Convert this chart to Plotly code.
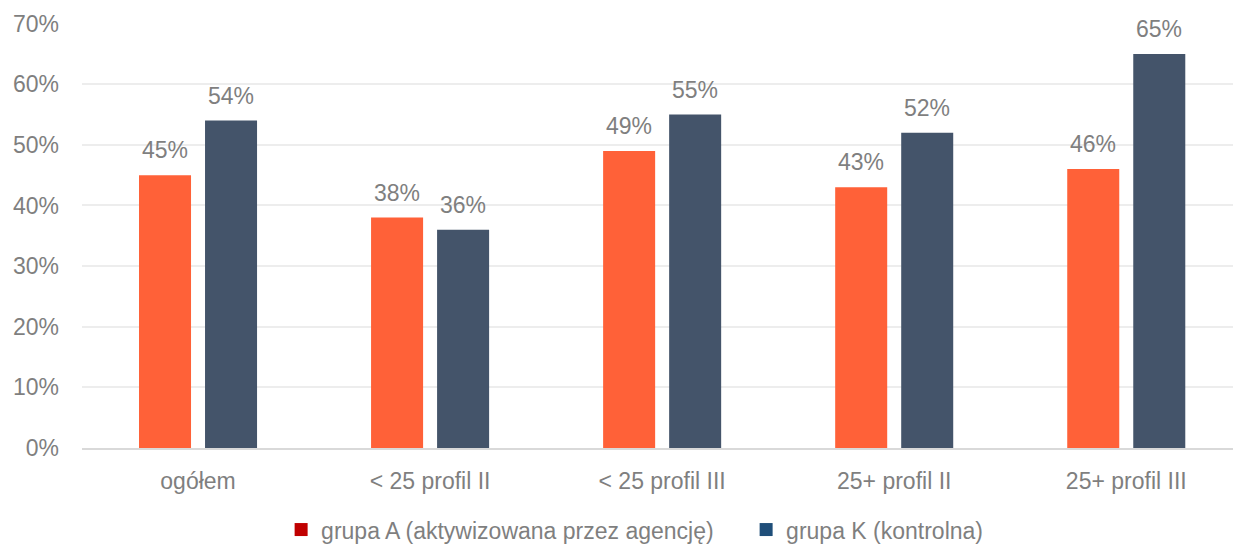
import plotly.graph_objects as go

categories = ["ogółem", "< 25 profil II", "< 25 profil III", "25+ profil II", "25+ profil III"]
grupa_a = [0.45, 0.38, 0.49, 0.43, 0.46]
grupa_k = [0.54, 0.36, 0.55, 0.52, 0.65]
series_names = ["grupa A (aktywizowana przez agencję)", "grupa K (kontrolna)"]
bar_colors = ["#FF6138", "#44546A"]
legend_colors = ["#C00000", "#1F4E79"]
y_ticks = [0, 0.1, 0.2, 0.3, 0.4, 0.5, 0.6, 0.7]
y_tick_labels = ["0%", "10%", "20%", "30%", "40%", "50%", "60%", "70%"]

FONT = "Liberation Sans"
GREY = "#7F7F7F"
FS = 23

fig = go.Figure()
for vals, name, col in zip([grupa_a, grupa_k], series_names, bar_colors):
    fig.add_trace(go.Bar(
        x=categories, y=vals, name=name, showlegend=False,
        marker=dict(color=col, line=dict(width=0)),
        hoverinfo="skip",
    ))
for name, col in zip(series_names, legend_colors):
    fig.add_trace(go.Scatter(
        x=[None], y=[None], mode="markers", name=name,
        marker=dict(symbol="square", size=13, color=col),
    ))

# value labels above the bars (offset left/right to sit over each bar of the group)
for vals, dx in zip([grupa_a, grupa_k], [-33, 33]):
    for cat, v in zip(categories, vals):
        fig.add_annotation(
            x=cat, y=v, xref="x", yref="y", text=f"{round(v*100)}%",
            showarrow=False, xshift=dx, yshift=25, yanchor="middle",
            font=dict(family=FONT, size=FS, color=GREY),
        )

fig.update_layout(
    width=1233, height=545,
    margin=dict(l=82, r=0, t=23, b=97, autoexpand=False),
    paper_bgcolor="white", plot_bgcolor="white",
    barmode="group", bargap=0.431, bargroupgap=0.212,
    font=dict(family=FONT, size=FS, color=GREY),
    showlegend=True,
    legend=dict(orientation="h", x=0.173, xanchor="left", y=-0.192, yanchor="middle",
                font=dict(family=FONT, size=FS, color=GREY),
                itemwidth=30, tracegroupgap=0, entrywidth=420, entrywidthmode="pixels"),
)
fig.update_xaxes(
    type="category", range=[-0.5, 4.46], automargin=False,
    showgrid=False, showline=True, linecolor="#D9D9D9", linewidth=2,
    ticks="", tickfont=dict(family=FONT, size=FS, color=GREY),
    ticklabelstandoff=11, fixedrange=True,
)
fig.update_yaxes(
    range=[0, 0.701], tickvals=y_ticks, ticktext=y_tick_labels, automargin=False,
    showgrid=True, gridcolor="#EDEDED", gridwidth=2,
    zeroline=False, showline=False, ticks="",
    tickfont=dict(family=FONT, size=FS, color=GREY),
    ticklabelstandoff=22, fixedrange=True,
)
fig.write_html(
    "out.html",
    config={"displayModeBar": False, "staticPlot": True},
    post_script="document.body.style.margin='0';document.body.style.overflow='hidden';",
)
